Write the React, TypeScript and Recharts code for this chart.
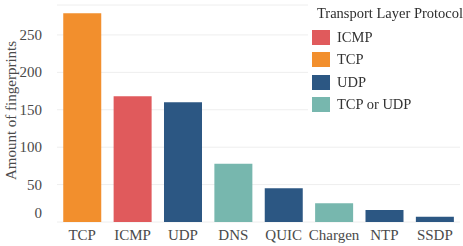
import { BarChart, Bar, XAxis, YAxis, CartesianGrid, Cell } from "recharts";

const services = ["TCP", "ICMP", "UDP", "DNS", "QUIC", "Chargen", "NTP", "SSDP"];
const fingerprints = [279, 168, 160, 78, 45, 25, 16, 7];
const serviceLayer = ["TCP", "ICMP", "UDP", "TCP or UDP", "UDP", "TCP or UDP", "UDP", "UDP"];

const legendLayers = ["ICMP", "TCP", "UDP", "TCP or UDP"];
const yTicks = [0, 50, 100, 150, 200, 250];

const LAYER_COLORS: Record<string, string> = {
  ICMP: "#e05a5c",
  TCP: "#f28f2d",
  UDP: "#2c5783",
  "TCP or UDP": "#77b7ae",
};

const FONT = "Liberation Serif, DejaVu Serif, serif";
const TEXT = "#4a4a4a";

const data = services.map((name, i) => ({
  name,
  count: fingerprints[i],
  layer: serviceLayer[i],
}));

function XTick(props: any) {
  const { x, y, payload } = props;
  return (
    <text x={x} y={y} dy={12} textAnchor="middle" style={{ fontFamily: FONT, fontSize: 15 }} fill={TEXT}>
      {payload.value}
    </text>
  );
}

function YTick(props: any) {
  const { x, y, payload } = props;
  // the zero label sits a bit above the baseline
  const dy = payload.value === 0 ? -9 : 0;
  return (
    <text x={x} y={y + dy} dy={5} textAnchor="end" style={{ fontFamily: FONT, fontSize: 15 }} fill={TEXT}>
      {payload.value}
    </text>
  );
}

function YTitle(props: any) {
  const { viewBox } = props;
  const cy = viewBox.y + viewBox.height / 2 - 3;
  return (
    <text
      x={11}
      y={cy}
      transform={`rotate(-90, 11, ${cy})`}
      textAnchor="middle"
      dominantBaseline="central"
      style={{ fontFamily: FONT, fontSize: 15 }}
      fill={TEXT}
    >
      Amount of fingerprints
    </text>
  );
}

function LayerLegend() {
  return (
    <div
      style={{
        position: "absolute",
        top: 0,
        left: 308,
        width: 155,
        height: 118,
        background: "#fff",
        fontFamily: FONT,
        color: "#333",
      }}
    >
      <div
        style={{
          position: "absolute",
          top: 4,
          left: 9,
          fontSize: 14.5,
          lineHeight: "18px",
          whiteSpace: "nowrap",
          color: "#2e2e2e",
        }}
      >
        Transport Layer Protocol
      </div>
      {legendLayers.map((l, i) => (
        <div
          key={l}
          style={{
            position: "absolute",
            top: 26.4 + i * 22.3,
            left: 4,
            display: "flex",
            alignItems: "center",
            height: 22.3,
            whiteSpace: "nowrap",
          }}
        >
          <span
            style={{
              display: "inline-block",
              width: 18,
              height: 15,
              background: LAYER_COLORS[l],
              marginRight: 7,
            }}
          />
          <span style={{ fontSize: 14.5 }}>{l}</span>
        </div>
      ))}
    </div>
  );
}

export default function App() {
  return (
    <div style={{ position: "fixed", left: 0, top: 0, width: 463, height: 246, background: "#fff" }}>
      <BarChart
        width={463}
        height={246}
        data={data}
        margin={{ top: 5, right: 3, left: 0, bottom: 0 }}
        barCategoryGap="12.4%"
      >
        <CartesianGrid vertical={false} stroke="#eeeeee" />
        <XAxis
          dataKey="name"
          height={24}
          axisLine={false}
          tickLine={false}
          interval={0}
          tick={<XTick />}
          tickMargin={0}
        />
        <YAxis
          width={57}
          domain={[0, 290]}
          ticks={yTicks}
          axisLine={false}
          tickLine={false}
          tick={<YTick />}
          tickMargin={9}
          label={<YTitle />}
        />
        <Bar dataKey="count" isAnimationActive={false}>
          {data.map((d) => (
            <Cell key={d.name} fill={LAYER_COLORS[d.layer]} />
          ))}
        </Bar>
      </BarChart>
      <LayerLegend />
    </div>
  );
}
